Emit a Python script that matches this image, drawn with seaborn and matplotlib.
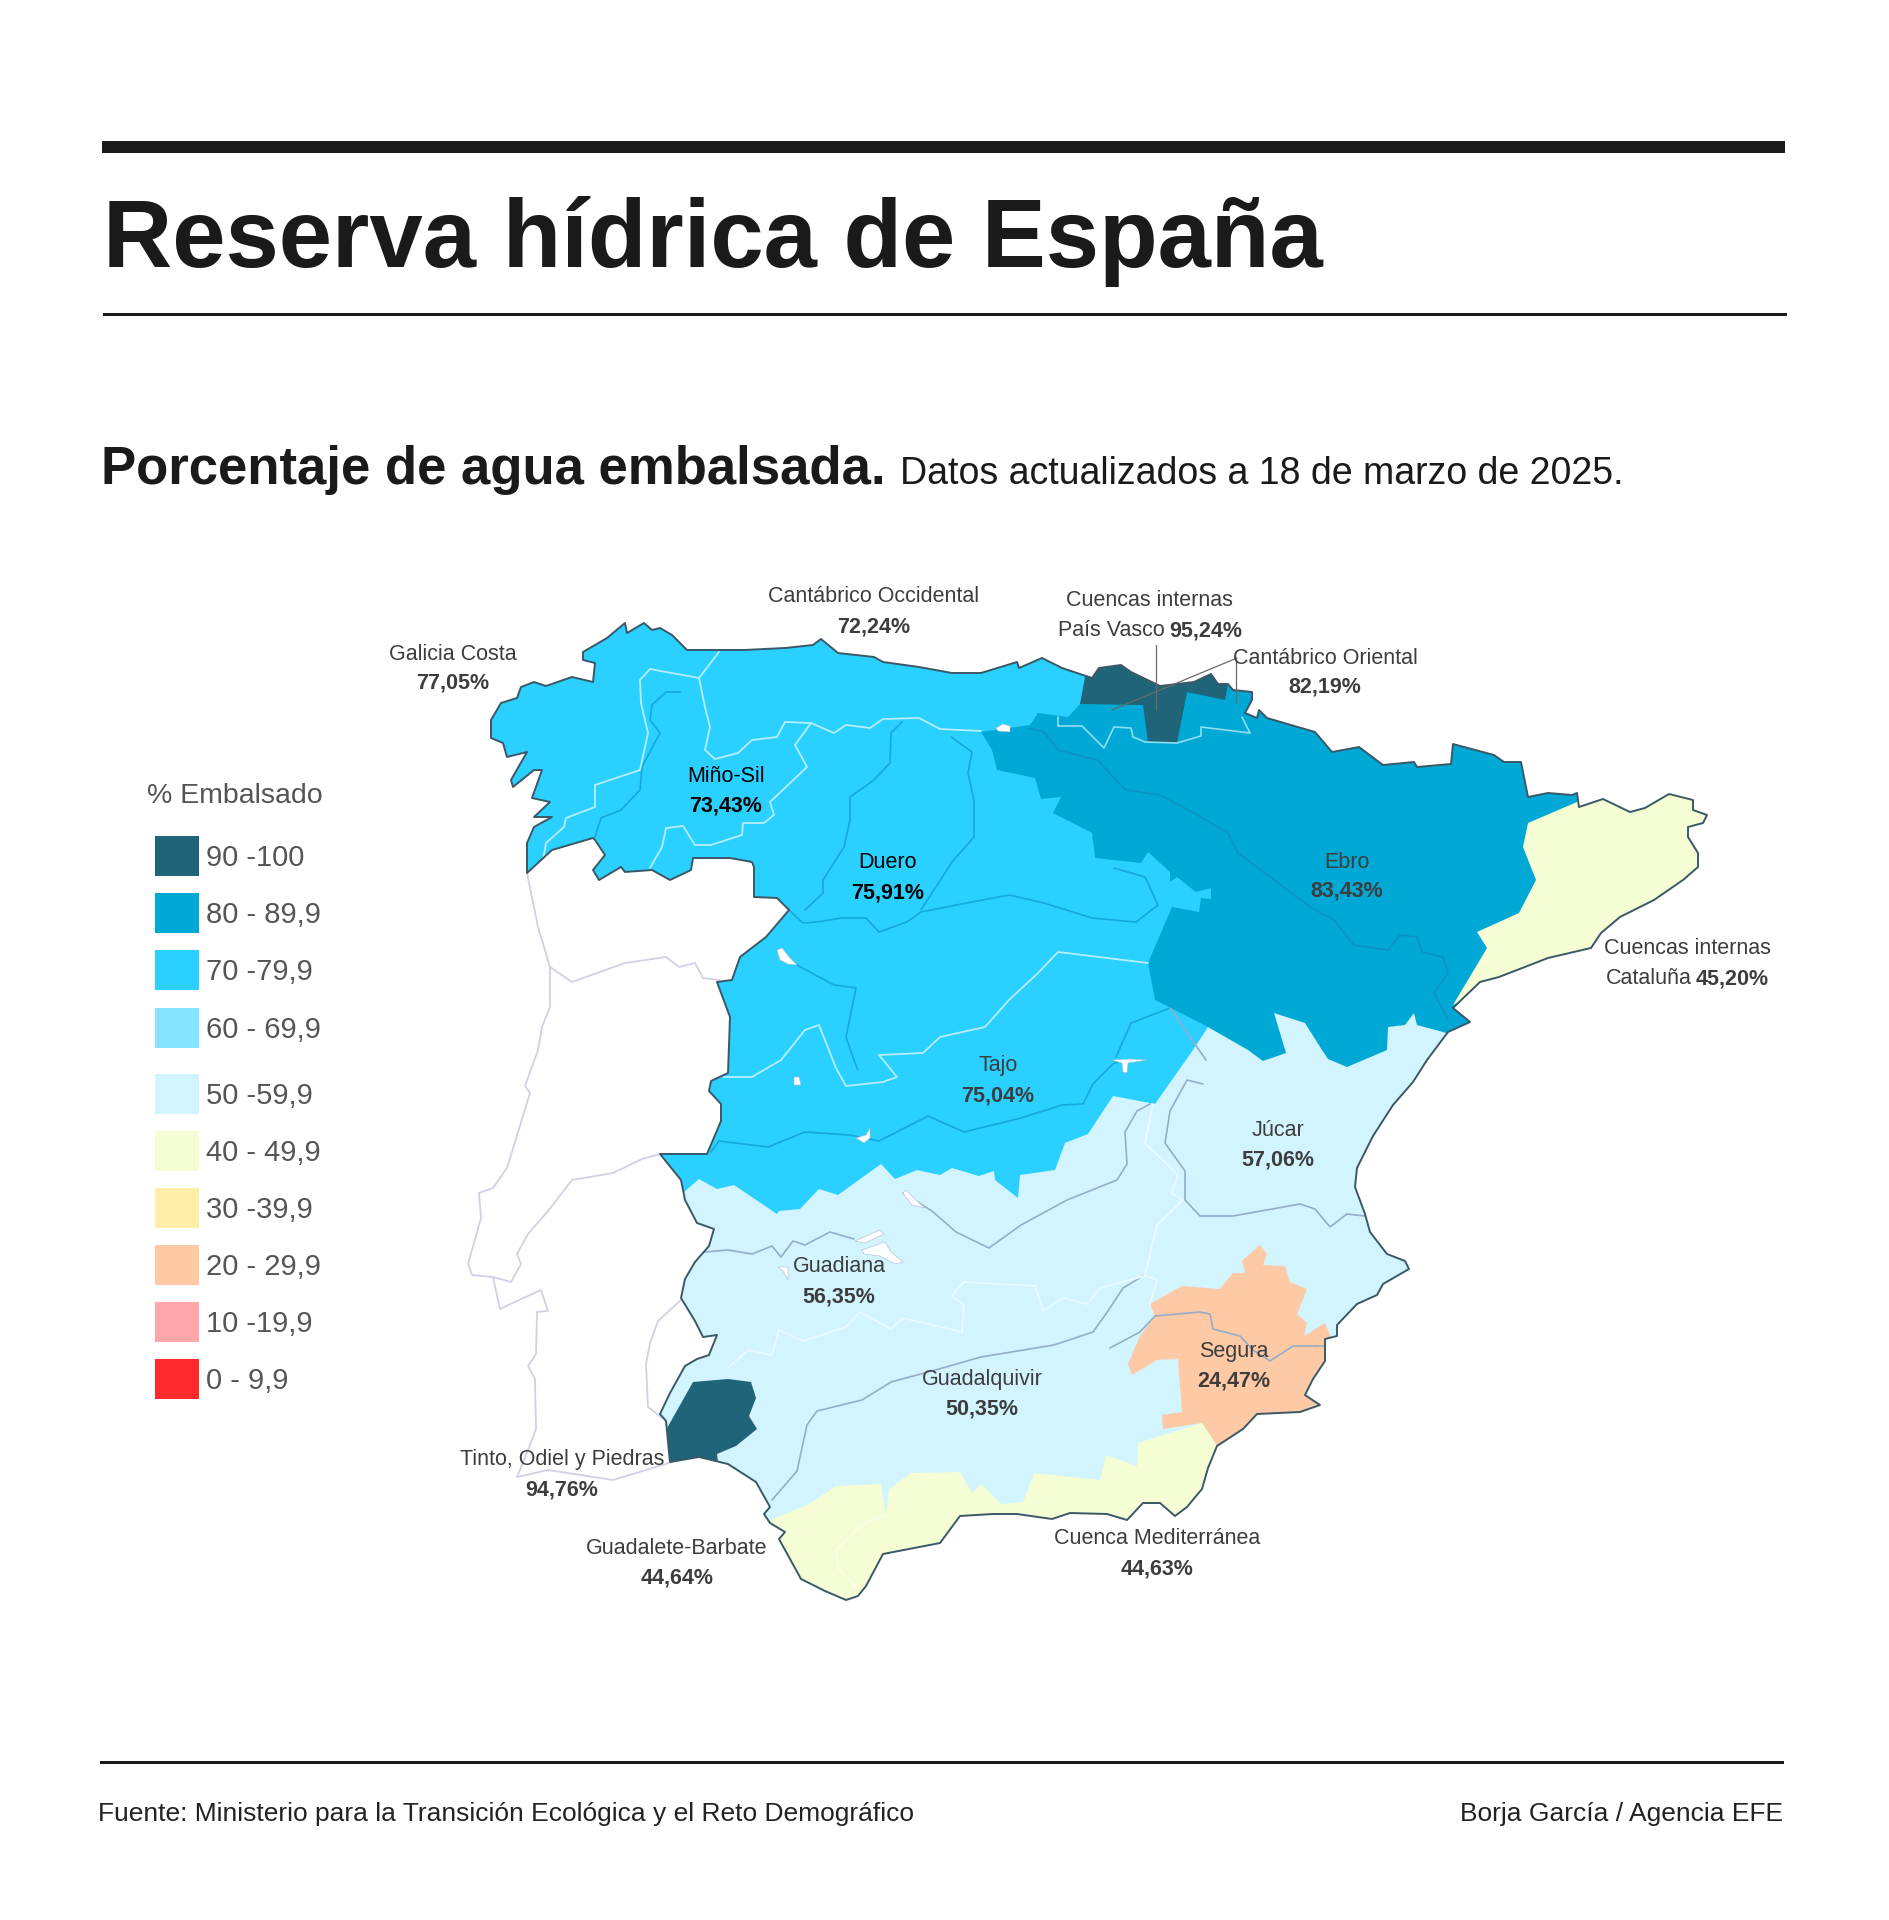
import warnings, logging
import matplotlib
matplotlib.use("Agg")
import matplotlib.pyplot as plt
from matplotlib.patches import Polygon, Rectangle
import seaborn as sns

logging.getLogger("matplotlib.font_manager").setLevel(logging.ERROR)
warnings.filterwarnings("ignore")

# ---------- legend ----------
LEGEND_LABELS = ["90 -100", "80 - 89,9", "70 -79,9", "60 - 69,9", "50 -59,9",
                 "40 - 49,9", "30 -39,9", "20 - 29,9", "10 -19,9", "0 - 9,9"]
LEGEND_COLORS = ["#1F6478", "#00A8D6", "#2AD0FF", "#85E4FF", "#D1F4FF",
                 "#F4FDD3", "#FFEDA8", "#FEC9A5", "#FFA6AB", "#FF2A2D"]
LEGEND_Y = [836, 893, 950, 1008, 1074, 1131, 1188, 1245, 1302, 1359]

# ---------- map outlines (image pixels) ----------
SPAIN = [(527,873),(527,843),(534,827),(552,817),(534,817),(550,802),(532,798),(542,770),(534,770),(513,787),(511,780),
 (527,752),(507,757),(503,743),(491,738),(491,720),(501,703),(517,698),(521,687),(534,682),(546,686),(572,677),(593,682),
 (595,663),(583,660),(583,652),(607,638),(625,623),(627,633),(644,623),(652,630),(660,628),(672,635),(687,650),(715,650),
 (744,650),(785,648),(813,645),(821,639),(838,653),(874,657),(883,662),(919,667),(952,673),(981,673),(1017,662),(1019,668),
 (1042,658),(1062,668),(1092,678),(1099,668),(1121,665),(1131,672),(1160,686),(1194,682),(1211,674),(1218,684),(1228,684),
 (1233,690),(1252,692),(1252,700),(1245,713),(1257,718),(1259,710),(1267,718),(1315,732),(1332,752),(1359,747),(1383,765),
 (1414,762),(1417,767),(1451,764),(1453,744),(1494,755),(1504,762),(1521,762),(1528,797),(1548,793),(1572,795),(1577,793),
 (1579,807),(1603,799),(1630,812),(1645,808),(1669,794),(1693,800),(1693,810),(1707,815),(1703,823),(1688,827),(1688,837),
 (1698,853),(1698,867),(1683,880),(1654,900),(1620,917),(1601,933),(1591,948),(1548,958),(1499,977),(1480,982),(1453,1008),
 (1470,1022),(1448,1032),(1427,1060),(1413,1082),(1393,1105),(1373,1136),(1357,1168),(1355,1187),(1365,1214),(1370,1232),
 (1387,1254),(1405,1261),(1409,1269),(1383,1284),(1377,1295),(1357,1304),(1337,1325),(1337,1336),(1325,1339),(1325,1361),
 (1313,1379),(1305,1395),(1320,1405),(1300,1412),(1257,1414),(1243,1429),(1217,1446),(1208,1468),(1202,1489),(1187,1507),
 (1175,1516),(1160,1503),(1143,1503),(1127,1520),(1107,1514),(1070,1513),(1052,1519),(1017,1514),(993,1514),(960,1516),
 (940,1543),(883,1554),(866,1586),(858,1596),(846,1600),(825,1591),(801,1579),(779,1539),(785,1532),(770,1523),(764,1514),
 (770,1507),(756,1482),(728,1464),(699,1457),(670,1462),(666,1421),(660,1414),(670,1393),(685,1366),(697,1359),(709,1355),
 (717,1335),(703,1337),(695,1321),(681,1298),(685,1279),(695,1262),(709,1246),(714,1229),(697,1223),(685,1200),(681,1180),
 (660,1154),(707,1154),(721,1121),(721,1104),(709,1091),(711,1081),(728,1073),(730,1017),(717,982),(732,980),(740,957),
 (766,937),(789,910),(777,898),(754,897),(754,867),(752,862),(730,858),(693,858),(691,870),(670,880),(652,870),(625,872),
 (621,867),(599,880),(593,870),(605,855),(595,840),(593,838),(552,850)]
ZONE_BLUE = [(480,610),(1100,610),(1230,880),(1230,950),(1208,1027),(1193,1050),(1155,1104),(1113,1096),(1088,1134),(1065,1143),
 (1055,1170),(1020,1175),(1018,1198),(995,1180),(994,1171),(979,1176),(952,1168),(940,1175),(917,1170),(895,1179),(881,1164),
 (838,1195),(819,1189),(800,1209),(779,1211),(777,1214),(734,1185),(717,1189),(699,1179),(683,1193),(660,1193),(480,1000)]
ZONE_EBRO = [(1092,678),(1092,640),(1300,640),(1600,760),(1620,900),(1500,1040),(1470,1040),(1443,1032),(1417,1025),(1414,1013),
 (1405,1025),(1388,1027),(1387,1050),(1347,1067),(1328,1059),(1322,1050),(1305,1023),(1274,1013),(1286,1053),(1263,1061),
 (1248,1050),(1208,1027),(1155,1000),(1148,963),(1172,907),(1199,912),(1201,898),(1211,899),(1211,888),(1196,892),(1177,877),
 (1170,882),(1170,872),(1148,852),(1141,863),(1095,858),(1092,833),(1053,813),(1061,797),(1041,799),(1035,778),(997,770),
 (992,750),(981,732),(1030,725),(1038,713),(1068,717),(1080,704)]
ZONE_CATALUNA = [(1577,802),(1528,823),(1523,847),(1536,880),(1519,913),(1477,932),(1487,948),(1453,1005),(1490,985),(1800,900),
 (1800,770),(1577,770)]
ZONE_VASCO = [(1080,704),(1092,640),(1228,640),(1228,684),(1225,700),(1187,692),(1177,743),(1148,742),(1143,705)]
ZONE_TINTO = [(693,1382),(728,1379),(751,1382),(756,1398),(749,1416),(757,1429),(736,1446),(717,1454),(719,1470),(660,1470),(666,1430)]
ZONE_SEGURA = [(1150,1304),(1182,1286),(1220,1289),(1233,1273),(1245,1273),(1242,1261),(1260,1245),(1267,1254),(1263,1265),
 (1285,1266),(1290,1282),(1307,1289),(1297,1314),(1307,1323),(1304,1336),(1325,1323),(1330,1336),(1345,1345),(1345,1430),
 (1250,1440),(1217,1446),(1202,1423),(1163,1429),(1162,1415),(1182,1412),(1178,1359),(1157,1360),(1132,1375),(1128,1364),
 (1140,1336),(1155,1316)]
ZONE_MEDITERRANEA = [(1217,1446),(1202,1423),(1138,1443),(1137,1466),(1106,1455),(1100,1480),(1034,1473),(1023,1502),(1001,1504),
 (981,1484),(972,1493),(960,1472),(911,1473),(889,1489),(886,1514),(881,1484),(836,1486),(809,1504),(768,1521),(750,1560),
 (850,1620),(1000,1540),(1200,1530),(1240,1450)]
RESERVOIRS = [[(777,950),(782,948),(790,958),(797,965),(788,964),(780,960)],[(794,1077),(799,1077),(801,1085),(794,1085)],
 [(856,1138),(866,1135),(870,1128),(870,1138),(864,1143)],[(1112,1060),(1130,1059),(1147,1060),(1128,1063),(1127,1073),(1123,1072),(1122,1063)],
 [(996,728),(1003,724),(1010,726),(1010,732),(998,731)],
 [(903,1193),(906,1190),(918,1202),(925,1208),(912,1205)],[(855,1241),(880,1230),(884,1234),(865,1243)],
 [(862,1250),(885,1242),(891,1252),(903,1262),(895,1264),(880,1256),(864,1254)],[(778,1267),(788,1267),(788,1280),(783,1271)]]

# ---------- rivers and inner divides ----------
RIVERS_BLUE = [
 [(902,722),(891,733),(890,763),(874,780),(850,797),(850,820),(844,847),(823,880),(823,893),(805,910)],
 [(951,737),(972,752),(968,773),(974,800),(974,837),(952,862),(921,910)],
 [(681,692),(666,692),(652,705),(650,720),(660,733),(642,767),(640,790),(621,810),(601,818),(595,837)],
 [(789,910),(803,923),(817,922),(842,918),(866,918),(879,932),(907,922),(921,912),(972,902),(1009,895),(1044,903),(1092,918),(1136,922),(1158,905),(1145,877),(1114,868)],
 [(711,1152),(719,1141),(768,1147),(805,1132),(850,1135),(879,1141),(928,1116),(964,1132),(1021,1118),(1062,1105),(1083,1104),(1093,1084),(1113,1064),(1120,1061)],
 [(797,965),(834,985),(856,988),(846,1037),(854,1060),(858,1070)],
 [(1170,1008),(1131,1023),(1116,1057)]]
RIVERS_EBRO = [[(1029,728),(1044,732),(1058,750),(1097,760),(1126,790),(1160,795),(1194,813),(1228,833),(1238,853),(1310,907),
 (1334,920),(1354,945),(1388,950),(1400,935),(1417,937),(1422,952),(1443,957),(1448,973),(1434,993),(1448,1020)]]
RIVERS_LIGHT = [
 [(705,1252),(728,1250),(752,1254),(772,1246),(781,1257),(793,1241),(805,1245),(830,1232),(854,1239)],
 [(903,1193),(932,1211),(956,1232),(989,1248),(1021,1225),(1067,1200),(1117,1180),(1127,1164),(1125,1132),(1137,1111),(1150,1104)],
 [(772,1500),(797,1471),(807,1425),(817,1411),(862,1400),(891,1382),(932,1371),(981,1357),(1054,1345),(1093,1332),(1108,1311),(1123,1288),(1143,1276)],
 [(1110,1348),(1140,1332),(1155,1316),(1200,1312),(1210,1314),(1213,1329),(1240,1336),(1253,1350),(1270,1361),(1293,1346),(1325,1346)],
 [(1203,1084),(1187,1080),(1170,1111),(1165,1143),(1185,1171),(1185,1200),(1200,1216),(1233,1216),(1300,1204),(1315,1209),(1330,1227),(1347,1214),(1365,1216)],
 [(1170,1008),(1206,1060)]]
DIVIDES_BLUE = [
 [(719,652),(699,678),(650,669),(640,680),(641,703),(648,733),(640,770),(595,785),(595,807),(566,818),(564,827),(546,843),(543,860)],
 [(699,678),(705,707),(710,727),(705,750),(715,759),(738,753),(752,740),(777,737),(785,722),(811,723),(795,745),(807,767),(770,802),(774,815),(764,823),(743,823),(742,835),(711,845),(695,845),(683,826),(666,828),(662,847),(650,868)],
 [(811,723),(834,733),(846,725),(870,728),(883,719),(919,718),(940,729),(981,731)],
 [(1148,963),(1058,952),(1038,973),(1009,1000),(985,1027),(940,1037),(923,1053),(879,1055),(897,1077),(883,1082),(846,1086),(836,1068),(819,1025),(805,1030),(781,1060),(752,1077),(723,1077)]]
DIVIDES_EBRO = [
 [(1058,717),(1058,726),(1082,726),(1104,748),(1114,727),(1131,728),(1133,737),(1145,742),(1177,743),(1201,736),(1201,727),(1250,733),(1242,717)]]
DIVIDES_LIGHT = [
 [(1153,1104),(1145,1143),(1178,1175),(1172,1193),(1183,1200),(1157,1225),(1145,1275),(1157,1280),(1150,1304)],
 [(728,1368),(748,1350),(772,1355),(779,1330),(803,1341),(846,1327),(860,1312),(891,1329),(903,1318),(962,1332),(964,1305),(952,1296),(964,1282),(1035,1286),(1043,1311),(1063,1298),(1087,1304),(1100,1288),(1145,1276)]]
DIVIDES_YELLOW = [[(887,1514),(862,1525),(836,1550),(838,1568),(858,1589)]]
PORTUGAL = [
 [(527,873),(538,927),(550,967),(550,1007),(542,1027),(538,1050),(525,1086),(530,1093),(507,1168),(493,1188),(479,1193),(481,1218),(468,1264),(472,1275),(493,1277),(500,1309),(519,1300),(541,1290),(548,1311),(537,1312),(536,1354),(528,1366),(535,1379),(536,1429),(528,1450),(517,1477),(548,1470),(613,1480),(646,1470),(672,1462)],
 [(550,967),(572,982),(625,963),(666,957),(679,967),(695,963),(703,978),(719,980)],
 [(660,1154),(642,1159),(613,1173),(572,1180),(548,1211),(528,1234),(517,1254),(521,1264),(511,1282),(493,1277)],
 [(681,1300),(658,1321),(650,1343),(646,1364),(648,1407),(662,1418)]]
LEADERS = [[(1156,645),(1156,710)],[(1237,658),(1112,710)],[(1236,660),(1236,703)]]

# ---------- labels: name, value, centre x, centre y of each line ----------
NAMES = ["Cantábrico Occidental", "Galicia Costa", "Cuencas internas", "Cantábrico Oriental", "Miño-Sil", "Duero", "Ebro",
         "Tajo", "Júcar", "Guadiana", "Guadalquivir", "Segura", "Tinto, Odiel y Piedras", "Guadalete-Barbate", "Cuenca Mediterránea", "Cuencas internas"]
VALUES = ["72,24%", "77,05%", None, "82,19%", "73,43%", "75,91%", "83,43%", "75,04%", "57,06%", "56,35%", "50,35%", "24,47%",
          "94,76%", "44,64%", "44,63%", None]
LABEL_X = [874, 453, 1149, 1325, 726, 888, 1347, 998, 1278, 839, 982, 1234, 562, 677, 1157, 1687]
LABEL_Y1 = [597, 654, 601, 658, 776, 863, 862, 1066, 1130, 1267, 1380, 1352, 1460, 1549, 1539, 949]
LABEL_Y2 = [627, 683, None, 687, 806, 893, 891, 1096, 1160, 1297, 1409, 1381, 1490, 1578, 1569, None]
LABEL_DARK = {"Miño-Sil", "Duero"}

sns.set_theme(style="white")
plt.rcParams["font.family"] = ["Liberation Sans", "DejaVu Sans"]
LABEL_SIZE = 15.5

fig = plt.figure(figsize=(18.9, 19.2), dpi=100, facecolor="white")
ax = fig.add_axes([0, 0, 1, 1])
ax.set_axis_off()
palette = sns.color_palette(LEGEND_COLORS)

def draw_lines(groups, color, lw, clip=None, z=3):
    for g in groups:
        n = len(ax.lines)
        sns.lineplot(x=[p[0] for p in g], y=[p[1] for p in g], sort=False, estimator=None,
                     color=color, linewidth=lw, ax=ax, legend=False, zorder=z)
        if clip is not None:
            ax.lines[n].set_clip_path(clip)

draw_lines(PORTUGAL, "#CFD1E4", 1.3, z=1)

base = Polygon(SPAIN, closed=True, fc=palette[4], ec="none", zorder=2)
ax.add_patch(base)
for pts, c in [(ZONE_BLUE, palette[2]), (ZONE_EBRO, palette[1]), (ZONE_CATALUNA, palette[5]),
               (ZONE_VASCO, palette[0]), (ZONE_TINTO, palette[0]), (ZONE_SEGURA, palette[7]),
               (ZONE_MEDITERRANEA, palette[5])]:
    p = Polygon(pts, closed=True, fc=c, ec="none", zorder=2.2)
    ax.add_patch(p)
    p.set_clip_path(base)

draw_lines(RIVERS_BLUE, "#14A9DA", 1.2, base)
draw_lines(RIVERS_EBRO, "#0E92C2", 1.2, base)
draw_lines(RIVERS_LIGHT, "#95ADC8", 1.2, base)
draw_lines(DIVIDES_BLUE, "#B5EEFF", 1.3, base)
draw_lines(DIVIDES_EBRO, "#8FDDF2", 1.2, base)
draw_lines(DIVIDES_LIGHT, "#E6FAFF", 1.4, base)
draw_lines(DIVIDES_YELLOW, "#FBFFE9", 1.2, base)
for r in RESERVOIRS:
    ax.add_patch(Polygon(r, closed=True, fc="white", ec="#AEBBCB", lw=0.4, zorder=3.2))
ax.add_patch(Polygon(SPAIN, closed=True, fc="none", ec="#3B5866", lw=1.4, zorder=4, joinstyle="round"))
draw_lines(LEADERS, "#6A6A6A", 0.9, z=5)

# header and footer rules
ax.add_patch(Rectangle((102, 141), 1683, 12, fc="#1A1A1A", ec="none"))
ax.add_patch(Rectangle((103, 313), 1684, 2.5, fc="#1A1A1A", ec="none"))
ax.add_patch(Rectangle((100, 1761), 1684, 2.5, fc="#1A1A1A", ec="none"))

ax.text(103, 267, "Reserva hídrica de España", fontsize=69, fontweight="bold", color="#1A1A1A", va="baseline")
ax.text(101, 484, "Porcentaje de agua embalsada.", fontsize=38, fontweight="bold", color="#1A1A1A", va="baseline")
ax.text(900, 484, "Datos actualizados a 18 de marzo de 2025.", fontsize=27, color="#1A1A1A", va="baseline")
ax.text(98, 1821, "Fuente: Ministerio para la Transición Ecológica y el Reto Demográfico", fontsize=19,
        color="#222222", va="baseline")
ax.text(1783, 1821, "Borja García / Agencia EFE", fontsize=19, color="#222222", ha="right", va="baseline")

# legend
ax.text(147, 796, "% Embalsado", fontsize=20.5, color="#555555", va="center")
for y, lab, c in zip(LEGEND_Y, LEGEND_LABELS, palette):
    ax.add_patch(Rectangle((155, y), 44, 40, fc=c, ec="none"))
    ax.text(206, y + 22, lab, fontsize=21, color="#555555", va="center")

# map labels
for name, val, x, y1, y2 in zip(NAMES, VALUES, LABEL_X, LABEL_Y1, LABEL_Y2):
    col = "#000000" if name in LABEL_DARK else "#3D3D3D"
    ax.text(x, y1, name, fontsize=LABEL_SIZE, color=col, ha="center", va="center", zorder=6)
    if val:
        ax.text(x, y2, val, fontsize=LABEL_SIZE, fontweight="bold", color=col, ha="center", va="center", zorder=6)
ax.text(1165, 631, "País Vasco", fontsize=LABEL_SIZE, color="#3D3D3D", ha="right", va="center", zorder=6)
ax.text(1169, 631, "95,24%", fontsize=LABEL_SIZE, fontweight="bold", color="#3D3D3D", va="center", zorder=6)
ax.text(1692, 979, "Cataluña", fontsize=LABEL_SIZE, color="#3D3D3D", ha="right", va="center", zorder=6)
ax.text(1696, 979, "45,20%", fontsize=LABEL_SIZE, fontweight="bold", color="#3D3D3D", va="center", zorder=6)

ax.set_xlim(0, 1890)
ax.set_ylim(1920, 0)
fig.savefig("out.png", dpi=100, facecolor="white")
